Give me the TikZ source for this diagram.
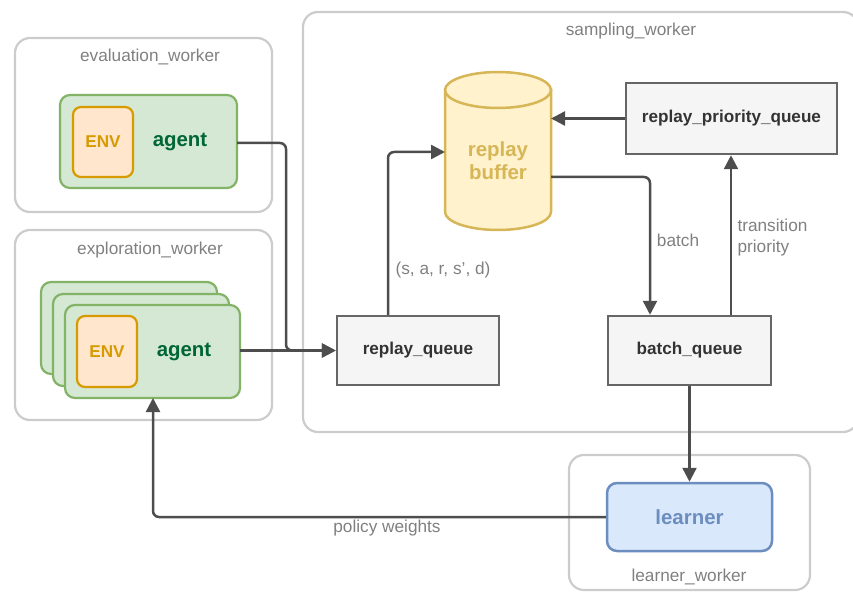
\documentclass[tikz,border=0pt]{standalone}
\usepackage{fontspec}
\setmainfont{Liberation Sans}
\usetikzlibrary{arrows.meta}
\definecolor{groupline}{HTML}{CCCCCC}
\definecolor{grouptext}{HTML}{808080}
\definecolor{agentfill}{HTML}{D5E8D4}
\definecolor{agentline}{HTML}{82B366}
\definecolor{agenttext}{HTML}{006633}
\definecolor{envfill}{HTML}{FFE6CC}
\definecolor{envline}{HTML}{D79B00}
\definecolor{buffill}{HTML}{FFF2CC}
\definecolor{bufline}{HTML}{D6B656}
\definecolor{queuefill}{HTML}{F5F5F5}
\definecolor{queueline}{HTML}{666666}
\definecolor{queuetext}{HTML}{333333}
\definecolor{learnfill}{HTML}{DAE8FC}
\definecolor{learnline}{HTML}{6C8EBF}
\definecolor{wire}{HTML}{4D4D4D}
\definecolor{wiretext}{HTML}{808080}
\tikzset{
  group/.style={draw=groupline, line width=2.2bp, rounded corners=15bp},
  grouplabel/.style={text=grouptext, font=\fontsize{17.3}{20}\selectfont},
  agentbox/.style={draw=agentline, fill=agentfill, line width=2.2bp, rounded corners=10bp},
  envbox/.style={draw=envline, fill=envfill, line width=2.2bp, rounded corners=8bp},
  queuebox/.style={draw=queueline, fill=queuefill, line width=2.5bp},
  learnbox/.style={draw=learnline, fill=learnfill, line width=2.5bp, rounded corners=10bp},
  boldbig/.style={font=\fontsize{20.5}{23}\selectfont\bfseries},
  boldmid/.style={font=\fontsize{17.2}{20}\selectfont\bfseries},
  wirelabel/.style={text=wiretext, font=\fontsize{17.3}{21}\selectfont},
  wireline/.style={draw=wire, line width=2.5bp, rounded corners=6bp,
    -{Triangle[length=14bp,width=14bp]}},
}
\begin{document}
\begin{tikzpicture}[x=1bp, y=-1bp]
\useasboundingbox (0,0) rectangle (853,593);
\clip (0,0) rectangle (853,593);

% worker containers
\draw[group] (15,38) rectangle (272,212);
\node[grouplabel] (evallbl) at (150,57) {evaluation\_worker};
\draw[group] (15,230) rectangle (272,420);
\node[grouplabel] (explbl) at (150,250) {exploration\_worker};
\draw[group] (303,12) rectangle (858,432);
\node[grouplabel] (samplbl) at (631,31) {sampling\_worker};
\draw[group] (569,455) rectangle (810,590);
\node[grouplabel] (learnlbl) at (689,577) {learner\_worker};

% evaluation agent
\draw[agentbox] (60,95) rectangle (237,188);
\coordinate (evalout) at (237,143);
\draw[envbox] (73,107) rectangle (133,177);
\node[boldmid, text=envline] (evalenv) at (103,142) {ENV};
\node[boldbig, text=agenttext] (evalagent) at (180,142) {agent};

% stacked exploration agents
\draw[agentbox] (41,282) rectangle (217,374);
\draw[agentbox] (53,294) rectangle (229,386);
\draw[agentbox] (65,305) rectangle (240,398);
\coordinate (expout) at (240,350.5);
\coordinate (expin) at (153,398);
\draw[envbox] (77,316) rectangle (137,387);
\node[boldmid, text=envline] (expenv) at (107,352) {ENV};
\node[boldbig, text=agenttext] (expagent) at (184,352) {agent};

% replay buffer cylinder
\path[fill=buffill, draw=bufline, line width=2.5bp]
  (445,90) -- (445,212)
  arc[start angle=180, end angle=360, x radius=53bp, y radius=18bp]
  -- (551,90) -- cycle;
\draw[fill=buffill, draw=bufline, line width=2.5bp] (498,90) ellipse [x radius=53bp, y radius=18bp];
\node[text=bufline, align=center, font=\fontsize{20.5}{23}\selectfont\bfseries] (buffer) at (498,161) {replay\\buffer};
\coordinate (bufin) at (445,152);
\coordinate (bufprio) at (551,119);
\coordinate (bufout) at (551,177);

% queues and learner
\node[queuebox, minimum width=211bp, minimum height=71bp, boldmid, text=queuetext] (prio) at (731.5,118.5) {replay\_priority\_queue};
\node[queuebox, minimum width=162bp, minimum height=69bp, boldmid, text=queuetext] (rq) at (418,350.5) {replay\_queue};
\node[queuebox, minimum width=163bp, minimum height=69bp, boldmid, text=queuetext] (bq) at (689.5,350.5) {batch\_queue};
\node[learnbox, minimum width=165bp, minimum height=68bp, boldbig, text=learnline] (learner) at (689.5,517) {learner};

% connectors
\draw[wireline] (evalout) -- (286,143) |- (rq.west);
\draw[wireline] (expout) -- (rq.west);
\draw[wireline] (rq.north -| 388,0) |- (bufin);
\node[wirelabel] (sarsd) at (443,270) {(s, a, r, s', d)};
\draw[wireline] (prio.west) -- (prio.west -| bufprio);
\draw[wireline] (bufout) -| (bq.north -| 650,0);
\node[wirelabel] (batchlbl) at (678,240) {batch};
\draw[wireline] (bq.north -| 731,0) -- (prio.south -| 731,0);
\node[wirelabel, anchor=west, align=left] (translbl) at (734,238) {transition\\priority};
\draw[wireline] (bq.south) -- (learner.north);
\draw[wireline] (learner.west) -| (expin);
\node[wirelabel] (pwlbl) at (387,528) {policy weights};
\end{tikzpicture}
\end{document}
